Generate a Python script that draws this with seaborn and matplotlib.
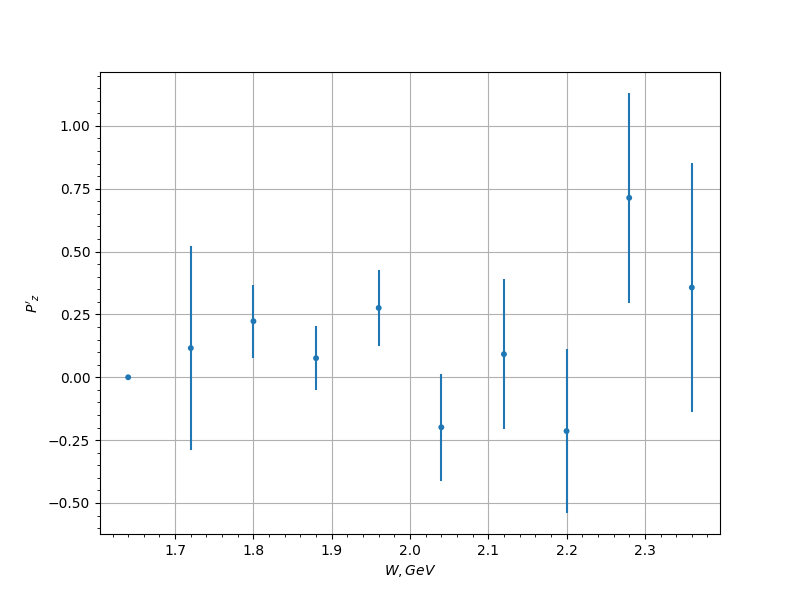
import matplotlib
matplotlib.use("Agg")
import matplotlib.pyplot as plt
import seaborn as sns
import pandas as pd

# Data
w_gev = [1.64, 1.72, 1.80, 1.88, 1.96, 2.04, 2.12, 2.20, 2.28, 2.36]
pz = [0.0, 0.116, 0.223, 0.076, 0.276, -0.199, 0.092, -0.214, 0.714, 0.357]
pz_err = [0.0, 0.405, 0.145, 0.127, 0.151, 0.212, 0.298, 0.326, 0.417, 0.495]

df = pd.DataFrame({"W": w_gev, "Pz": pz, "err": pz_err})

fig, ax = plt.subplots(figsize=(8, 6), dpi=100)
ax.errorbar(df["W"], df["Pz"], yerr=df["err"], fmt="none", ecolor="#1f77b4", elinewidth=1.5)
sns.scatterplot(data=df, x="W", y="Pz", ax=ax, color="#1f77b4", s=18,
                edgecolor="none", zorder=3, legend=False)

ax.set_xlabel("$W, GeV$")
ax.set_ylabel("$P'_z$")
ax.minorticks_on()
ax.grid(True, which="major")
ax.set_axisbelow(True)

fig.savefig("out.png", dpi=100)
